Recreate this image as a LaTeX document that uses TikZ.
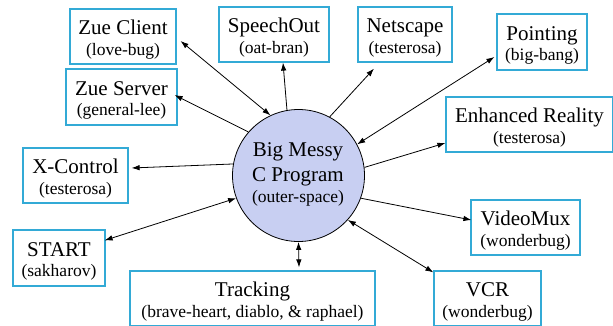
\documentclass[tikz,border=0pt]{standalone}
\usepackage{fontspec}
\setmainfont{Liberation Serif}
\usetikzlibrary{arrows.meta,calc}
\definecolor{boxblue}{RGB}{51,170,214}
\definecolor{blobfill}{RGB}{200,207,242}
\newcommand{\tf}{\fontsize{21}{20.5}\selectfont}
\newcommand{\sfn}{\fontsize{17.5}{20.5}\selectfont}
\newcommand{\upstrut}{\rule{0pt}{21pt}}
\begin{document}
\begin{tikzpicture}[x=1pt,y=1pt,
  box/.style={draw=boxblue,line width=1.2pt,fill=white,rectangle,align=center,inner sep=0pt,font=\tf},
  blob/.style={draw=black,line width=0.8pt,circle,fill=blobfill,inner sep=0pt,minimum size=132pt,align=center,font=\tf},
  conn/.style={line width=0.8pt,draw=black},
  tip/.tip={Latex[length=8pt,width=5.5pt]}]
\useasboundingbox (0,0) rectangle (613,325);
\clip (0,0) rectangle (613,325);
\fill[white] (0,0) rectangle (613,325);

\node[blob] (circ) at (298.5,149.5) {};
\node[font=\tf,align=center] (circtext) at (298,151) {Big Messy\\[5pt]C Program\\{\sfn (outer-space)}};

\node[box,minimum width=106pt,minimum height=55pt] (zc) at (123,288.5) {\upstrut Zue Client\\{\sfn (love-bug)}};
\node[box,minimum width=111pt,minimum height=56pt] (zs) at (121.5,228) {\upstrut Zue Server\\{\sfn (general-lee)}};
\node[box,minimum width=110pt,minimum height=55pt] (so) at (274,290.5) {\upstrut SpeechOut\\{\sfn (oat-bran)}};
\node[box,minimum width=94pt,minimum height=55pt] (ns) at (405,290.5) {\upstrut Netscape\\{\sfn (testerosa)}};
\node[box,minimum width=90pt,minimum height=56pt] (pt) at (542,283) {\upstrut Pointing\\{\sfn (big-bang)}};
\node[box,minimum width=167pt,minimum height=55pt] (er) at (529.5,200.5) {\upstrut Enhanced Reality\\{\sfn (testerosa)}};
\node[box,minimum width=105pt,minimum height=55pt] (xc) at (75.5,149.5) {\upstrut X-Control\\{\sfn (testerosa)}};
\node[box,minimum width=92pt,minimum height=56pt] (st) at (59,67) {\upstrut START\\{\sfn (sakharov)}};
\node[box,minimum width=245pt,minimum height=55pt] (tr) at (252.5,26.5) {\upstrut Tracking\\{\sfn (brave-heart, diablo, \& raphael)}};
\node[box,minimum width=109pt,minimum height=55pt] (vm) at (525.5,97.5) {\upstrut VideoMux\\{\sfn (wonderbug)}};
\node[box,minimum width=107pt,minimum height=55pt] (vcr) at (487.5,26.5) {\upstrut VCR\\{\sfn (wonderbug)}};

\draw[conn,tip-tip] (circ.115) -- ($(zc.east)+(4,-4.5)$);
\draw[conn,-tip] (circ.139) -- ($(zs.east)+(-3,2)$);
\draw[conn,-tip] (circ.100) -- ($(so.south)+(9,0)$);
\draw[conn,-tip] (circ.62) -- ($(ns.south)+(-31,-6)$);
\draw[conn,tip-tip] (circ.28) -- ($(pt.west)+(-2,-15)$);
\draw[conn,-tip] (circ.7) -- ($(er.west)+(0,-18.5)$);
\draw[conn,-tip] (circ.170) -- ($(xc.east)+(3,7.5)$);
\draw[conn,tip-tip] (circ.200) -- ($(st.north east)+(-1,-11)$);
\draw[conn,tip-tip] (circ.270) -- ($(tr.north)+(46.5,3)$);
\draw[conn,-tip] (circ.340) -- ($(vm.west)+(1,7.5)$);
\draw[conn,tip-tip] (circ.318) -- ($(vcr.north west)+(0,-2)$);
\end{tikzpicture}
\end{document}
